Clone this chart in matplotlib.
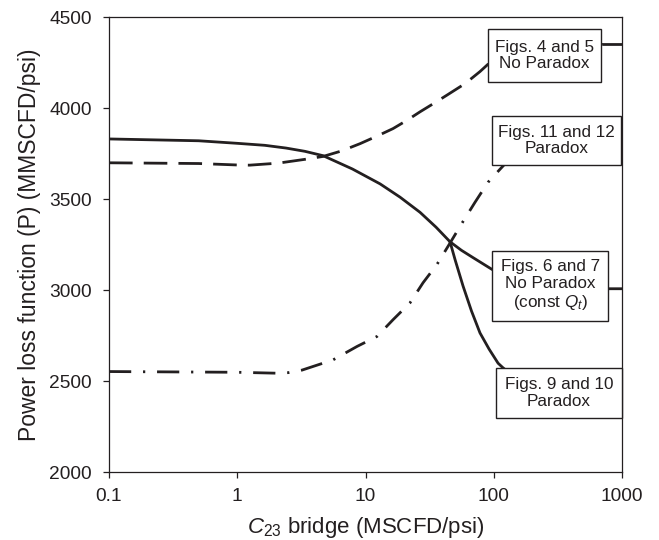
import matplotlib
matplotlib.use("Agg")
import matplotlib.pyplot as plt
from matplotlib.patches import Rectangle

plt.rcParams['font.family'] = ['Liberation Sans', 'DejaVu Sans']
plt.rcParams['mathtext.fontset'] = 'custom'
plt.rcParams['mathtext.rm'] = 'Liberation Sans'
plt.rcParams['mathtext.it'] = 'Liberation Sans:italic'
plt.rcParams['lines.scale_dashes'] = False

# --- data ---
x_45 = [0.1, 0.5, 1.0, 1.25, 2.08, 3.37, 4.67, 6.5, 9.06, 12.5, 16.4, 21, 26.6, 34, 43.2, 60, 78, 90, 700, 1000]
y_45 = [3699, 3695, 3687, 3686, 3697, 3718, 3734, 3764, 3804, 3848, 3887, 3932, 3979, 4025, 4071, 4135, 4200, 4240, 4349, 4349]

x_67 = [0.1, 0.5, 1.0, 1.64, 2.4, 3.37, 4.67, 7.9, 13.0, 18.6, 26.6, 35.5, 45.6, 56, 68.9, 97, 200, 778, 1000]
y_67 = [3830, 3820, 3806, 3795, 3780, 3762, 3738, 3665, 3583, 3510, 3427, 3345, 3265, 3218, 3178, 3113, 3050, 3007, 3007]

x_910 = [45.6, 50, 57.6, 67, 78.1, 92, 108, 117, 127, 150]
y_910 = [3265, 3165, 3022, 2885, 2764, 2675, 2598, 2575, 2554, 2480]

x_1112 = [0.1, 1.0, 2.0, 2.5, 3.2, 3.9, 5.58, 8.59, 12.3, 16.4, 22.2, 28.1, 36.1, 45.6, 56.5, 71.4, 90.2, 112, 150]
y_1112 = [2552, 2548, 2543, 2546, 2560, 2580, 2616, 2690, 2745, 2837, 2929, 3040, 3141, 3258, 3367, 3482, 3592, 3664, 3760]

x_ticks = [0.1, 1, 10, 100, 1000]
x_ticklabels = ['0.1', '1', '10', '100', '1000']
y_ticks = [2000, 2500, 3000, 3500, 4000, 4500]

box_texts = ["Figs. 4 and 5\nNo Paradox",
             "Figs. 11 and 12\nParadox",
             "Figs. 6 and 7\nNo Paradox\n(const $Q_t$)",
             "Figs. 9 and 10\nParadox"]

# --- figure ---
fig = plt.figure(figsize=(6.59, 5.40), dpi=100)
ax = fig.add_axes([0.1654, 0.1259, 0.7785, 0.8426])

col = '#231f20'
lw = 2.0
ax.plot(x_45, y_45, color=col, lw=lw, dashes=(17, 8), solid_capstyle='butt')
ax.plot(x_67, y_67, color=col, lw=lw)
ax.plot(x_910, y_910, color=col, lw=lw)
ax.plot(x_1112, y_1112, color=col, lw=lw, dashes=(16, 8.5, 1.6, 8.5))

ax.set_xscale('log')
ax.set_xlim(0.1, 1000)
ax.set_ylim(2000, 4500)
ax.set_xticks(x_ticks)
ax.set_xticklabels(x_ticklabels)
ax.minorticks_off()
ax.set_yticks(y_ticks)
ax.tick_params(axis='both', direction='out', length=4.5, width=0.9,
               labelsize=13.8, colors=col, pad=7)
ax.tick_params(axis='y', pad=8)
for s in ax.spines.values():
    s.set_linewidth(0.9)
    s.set_color(col)

ax.set_ylabel('Power loss function (P) (MMSCFD/psi)', fontsize=16.5, color=col, labelpad=6)
ax.set_xlabel('$C_{23}$ bridge (MSCFD/psi)', fontsize=16, color=col, labelpad=7)

# annotation boxes (axes fractions)
boxes = [(0.739, 0.857, 0.220, 0.117),
         (0.747, 0.675, 0.251, 0.107),
         (0.747, 0.332, 0.226, 0.154),
         (0.754, 0.119, 0.246, 0.110)]
for (bx, by, bw, bh), t in zip(boxes, box_texts):
    r = Rectangle((bx, by), bw, bh, transform=ax.transAxes, facecolor='white',
                  edgecolor=col, lw=1.0, zorder=5, clip_on=False)
    ax.add_patch(r)
    ax.text(bx + bw / 2, by + bh / 2, t, transform=ax.transAxes, ha='center',
            va='center', fontsize=12.3, color=col, zorder=6, linespacing=1.15)

fig.savefig('out.png', dpi=100)
